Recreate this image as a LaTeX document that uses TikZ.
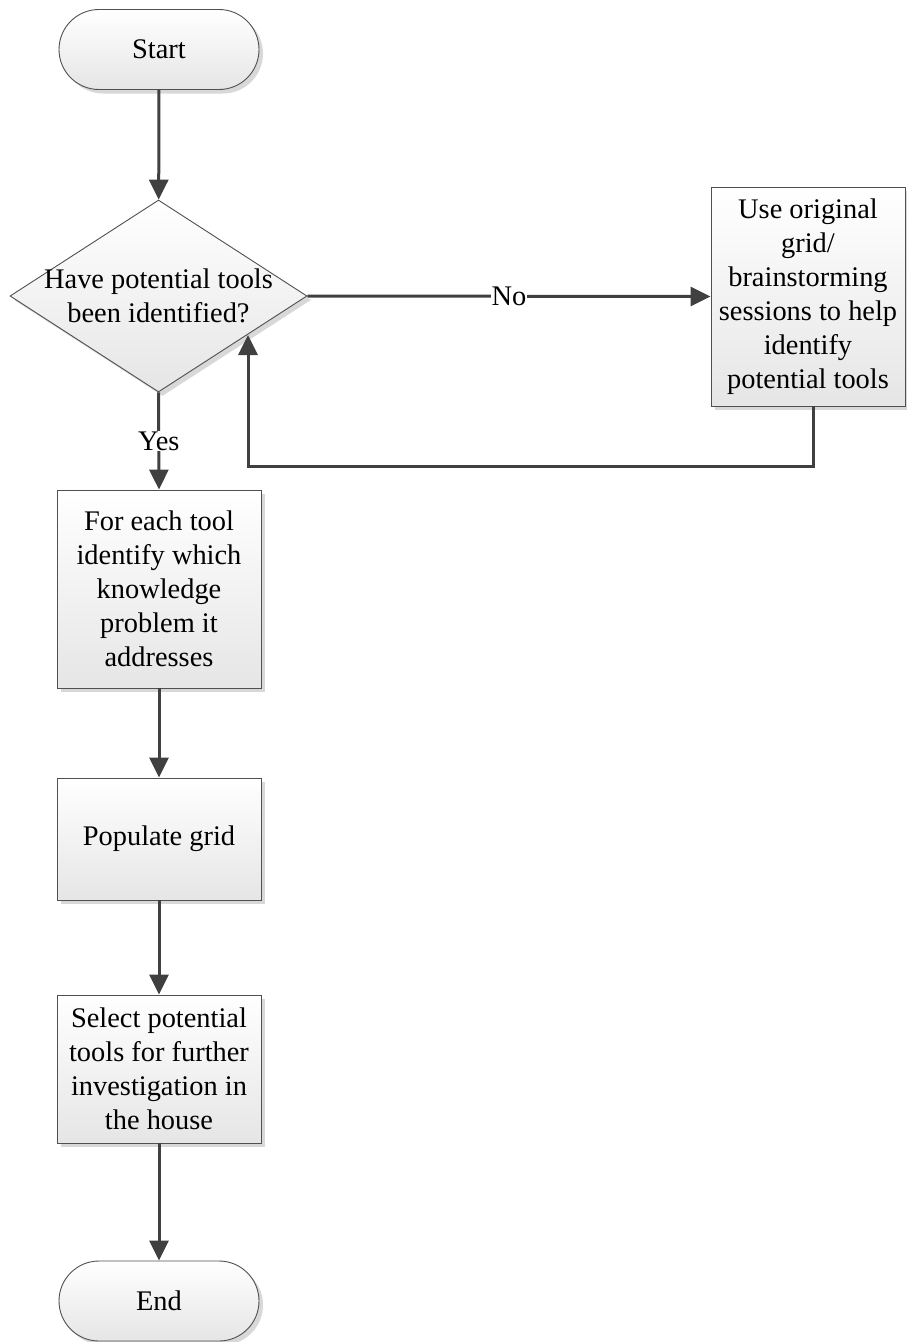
\documentclass[tikz,border=0pt]{standalone}
\usepackage{fontspec}
\setmainfont{Liberation Serif}
\usetikzlibrary{shapes.geometric,shapes.misc,arrows.meta,shadows,positioning}
\definecolor{linec}{HTML}{404040}
\definecolor{edgec}{HTML}{505050}
\definecolor{shadc}{HTML}{D8D8D8}
\tikzset{
  x=1pt,y=1pt,
  base/.style={draw=edgec, line width=0.9pt, top color=white, bottom color=black!10,
    drop shadow={shadow xshift=4pt, shadow yshift=-4pt, fill=shadc, opacity=1},
    align=center, inner sep=2pt, font=\fontsize{28.4}{34}\selectfont},
  procbox/.style={base, rectangle, minimum width=204pt},
  termbox/.style={base, rounded rectangle, minimum width=204pt, minimum height=80pt},
  decbox/.style={base, diamond, minimum width=297pt, minimum height=192pt, inner sep=0pt},
  conn/.style={draw=linec, line width=3pt, -{Triangle[width=19pt,length=20pt]}},
  lbl/.style={fill=white, inner sep=1pt, font=\fontsize{28.4}{34}\selectfont}
}
\begin{document}
\begin{tikzpicture}
\useasboundingbox (0,0) rectangle (906,-1342);
\node[termbox] (start) at (159,-49.5) {Start};
\node[decbox] (dec) at (158.5,-296) {};
\node[align=center, font=\fontsize{28.4}{34}\selectfont] (dectext) at (158.5,-296) {Have potential tools\\been identified?};
\node[procbox, minimum width=194pt, minimum height=219pt] (use) at (808,-296.5) {Use original\\grid/\\brainstorming\\sessions to help\\identify\\potential tools};
\node[procbox, minimum height=198pt] (b2) at (159,-589) {For each tool\\identify which\\knowledge\\problem it\\addresses};
\node[procbox, minimum height=122pt] (b3) at (159,-839) {Populate grid};
\node[procbox, minimum height=148pt] (b4) at (159,-1069) {Select potential\\tools for further\\investigation in\\the house};
\node[termbox] (end) at (159,-1301) {End};
\coordinate (fb) at (248,-466);
\coordinate (fbend) at (248,-335);
\draw[conn] (start) -- (dec);
\draw[conn] (dec.east) -- node[lbl] (no) {No} (use.west);
\draw[conn] (dec.south) -- node[lbl] (yes) {Yes} (b2.north);
\draw[conn] ([xshift=5pt]use.south) |- (fb) -- (fbend);
\draw[conn] (b2) -- (b3);
\draw[conn] (b3) -- (b4);
\draw[conn] (b4) -- (end);
\end{tikzpicture}
\end{document}
